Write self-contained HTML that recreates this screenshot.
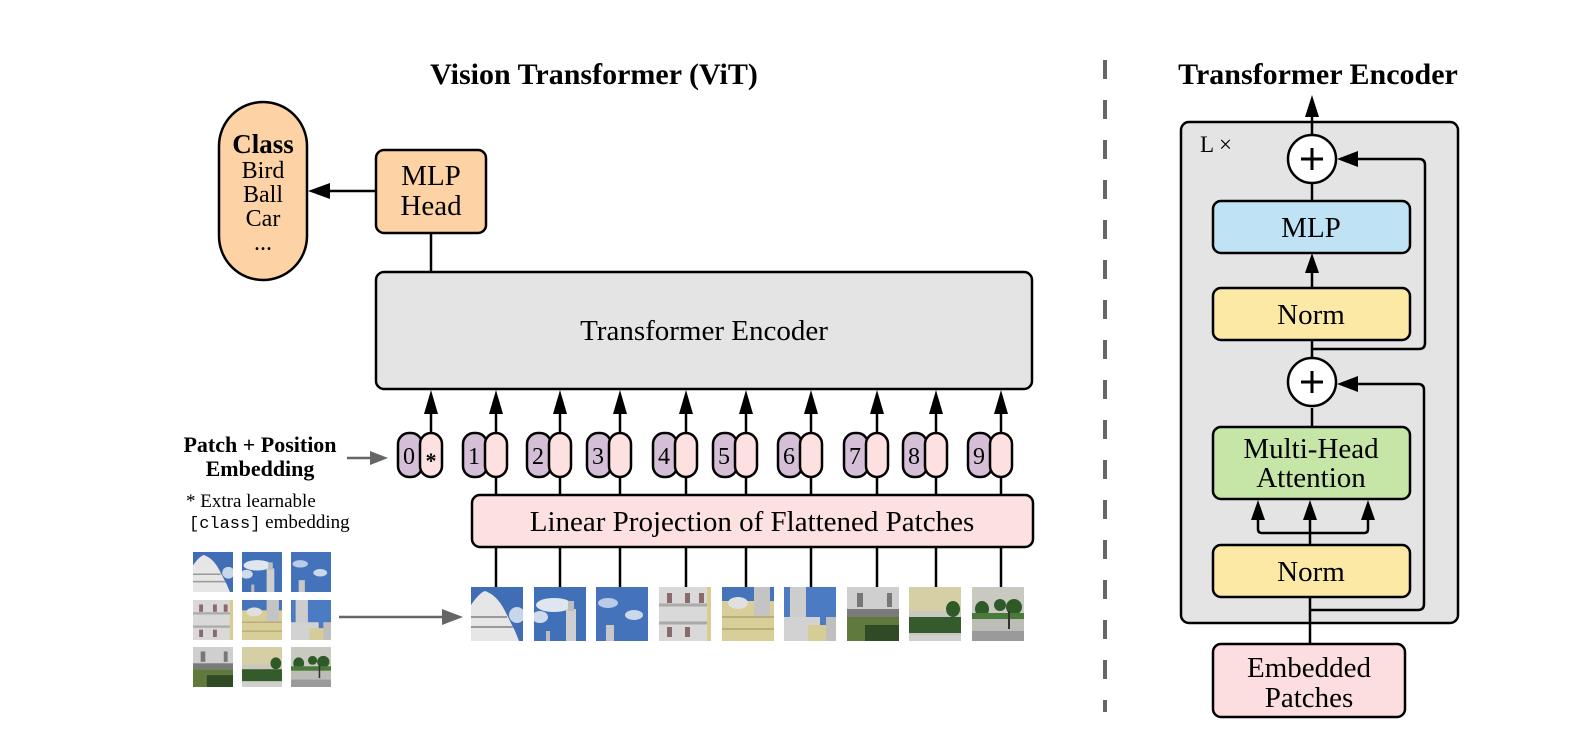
<!DOCTYPE html>
<html><head><meta charset="utf-8"><style>
html,body{margin:0;padding:0;background:#fff;}
svg{display:block;}
text{font-family:"Liberation Serif",serif;fill:#000;}
</style></head><body>
<svg width="1594" height="751" viewBox="0 0 1594 751" xmlns="http://www.w3.org/2000/svg">
<defs>
<symbol id="pA" viewBox="0 0 52 54" preserveAspectRatio="none"><rect width="52" height="54" fill="#3f6db6"/><ellipse cx="46" cy="28" rx="8" ry="8" fill="#c8d6ea"/><path d="M0 54V18Q8 6 14 4Q26 8 34 24L44 44L48 54Z" fill="#e6e6e6"/><path d="M0 30H36M0 40H42" stroke="#999" stroke-width="2"/></symbol>
<symbol id="pB" viewBox="0 0 52 54" preserveAspectRatio="none"><rect width="52" height="54" fill="#4070b8"/><ellipse cx="20" cy="18" rx="18" ry="7" fill="#dfe6f0"/><ellipse cx="6" cy="30" rx="8" ry="6" fill="#cfdaea"/><rect x="32" y="22" width="10" height="32" fill="#cfcfcf"/><rect x="34" y="14" width="6" height="10" fill="#bdbdbd"/><rect x="12" y="44" width="4" height="10" fill="#bbb"/></symbol>
<symbol id="pC" viewBox="0 0 52 54" preserveAspectRatio="none"><rect width="52" height="54" fill="#4573bb"/><ellipse cx="12" cy="16" rx="10" ry="5" fill="#b9cbe6"/><ellipse cx="38" cy="28" rx="9" ry="5" fill="#cad8ec"/><rect x="10" y="38" width="8" height="16" fill="#c8c8c8"/></symbol>
<symbol id="pD" viewBox="0 0 52 54" preserveAspectRatio="none"><rect width="52" height="54" fill="#d9d9d9"/><path d="M0 18H52M0 36H52" stroke="#aaa" stroke-width="3"/><rect x="8" y="6" width="5" height="10" fill="#8a6a6a"/><rect x="26" y="6" width="5" height="10" fill="#8a6a6a"/><rect x="40" y="6" width="5" height="10" fill="#8a6a6a"/><rect x="8" y="40" width="5" height="10" fill="#8a6a6a"/><rect x="26" y="40" width="5" height="10" fill="#8a6a6a"/><rect x="48" y="0" width="4" height="54" fill="#d8cc90"/></symbol>
<symbol id="pE" viewBox="0 0 52 54" preserveAspectRatio="none"><rect width="52" height="54" fill="#d8cf98"/><rect width="52" height="14" fill="#4674bb"/><rect x="32" y="0" width="16" height="30" fill="#c4c4c4"/><ellipse cx="16" cy="16" rx="10" ry="6" fill="#e0e0e0"/><path d="M0 30H52M0 42H52" stroke="#b9ae7a" stroke-width="2"/></symbol>
<symbol id="pF" viewBox="0 0 52 54" preserveAspectRatio="none"><rect width="52" height="54" fill="#4b7bc2"/><rect x="6" y="0" width="16" height="54" fill="#cdcdcd"/><rect x="0" y="30" width="36" height="24" fill="#d2d2d2"/><rect x="24" y="38" width="20" height="16" fill="#d5cc98"/><rect x="42" y="30" width="10" height="24" fill="#bfbfbf"/></symbol>
<symbol id="pG" viewBox="0 0 52 54" preserveAspectRatio="none"><rect width="52" height="54" fill="#cfcfcf"/><rect x="10" y="6" width="6" height="14" fill="#777"/><rect x="40" y="6" width="5" height="14" fill="#777"/><rect x="0" y="22" width="52" height="8" fill="#7a7a7a"/><rect x="0" y="30" width="52" height="24" fill="#5f7a3c"/><rect x="18" y="38" width="34" height="16" fill="#2f4a24"/></symbol>
<symbol id="pH" viewBox="0 0 52 54" preserveAspectRatio="none"><rect width="52" height="54" fill="#d6cfa5"/><rect x="0" y="24" width="52" height="30" fill="#c8c8c0"/><ellipse cx="44" cy="22" rx="7" ry="8" fill="#2f5a28"/><rect x="0" y="30" width="52" height="16" fill="#355a2c"/><rect x="0" y="48" width="52" height="6" fill="#d0d0d0"/></symbol>
<symbol id="pI" viewBox="0 0 52 54" preserveAspectRatio="none"><rect width="52" height="54" fill="#c9c9c2"/><rect x="0" y="28" width="52" height="26" fill="#bdbdb8"/><ellipse cx="10" cy="22" rx="7" ry="8" fill="#2e5a28"/><ellipse cx="28" cy="18" rx="6" ry="6" fill="#2e5a28"/><ellipse cx="42" cy="20" rx="8" ry="8" fill="#2e5a28"/><rect x="0" y="26" width="52" height="6" fill="#4a7a3a"/><rect x="36" y="24" width="2" height="18" fill="#333"/><rect x="0" y="44" width="52" height="10" fill="#9a9a9a"/></symbol>
</defs>

<!-- LEFT -->
<text x="594" y="84" font-size="30" font-weight="bold" text-anchor="middle">Vision Transformer (ViT)</text>

<rect x="219" y="102" width="88" height="178" rx="44" fill="#fdd3a5" stroke="#000" stroke-width="2.5"/>
<text x="263" y="153" font-size="27" font-weight="bold" text-anchor="middle">Class</text>
<text x="263" y="178" font-size="24" text-anchor="middle">Bird</text>
<text x="263" y="202" font-size="24" text-anchor="middle">Ball</text>
<text x="263" y="226" font-size="24" text-anchor="middle">Car</text>
<text x="263" y="250" font-size="24" text-anchor="middle">...</text>

<rect x="376" y="150" width="110" height="83" rx="8" fill="#fdd3a5" stroke="#000" stroke-width="2.5"/>
<text x="431" y="185" font-size="29" text-anchor="middle">MLP</text>
<text x="431" y="215" font-size="29" text-anchor="middle">Head</text>
<line x1="376" y1="191" x2="328" y2="191" stroke="#000" stroke-width="2.5"/>
<polygon points="308,191 330,183 330,199" fill="#000"/>
<line x1="431" y1="233" x2="431" y2="272" stroke="#000" stroke-width="2.5"/>

<rect x="376" y="272" width="656" height="117" rx="8" fill="#e4e4e4" stroke="#000" stroke-width="2.5"/>
<text x="704" y="340" font-size="29" text-anchor="middle">Transformer Encoder</text>

<rect x="472" y="495" width="561" height="52" rx="8" fill="#fde0e0" stroke="#000" stroke-width="2.5"/>
<text x="752" y="531" font-size="29" text-anchor="middle">Linear Projection of Flattened Patches</text>

<g stroke="#000" stroke-width="2.5">
<line x1="431" y1="433" x2="431" y2="410"/><line x1="496" y1="433" x2="496" y2="410"/>
<line x1="560" y1="433" x2="560" y2="410"/><line x1="620" y1="433" x2="620" y2="410"/>
<line x1="686" y1="433" x2="686" y2="410"/><line x1="746" y1="433" x2="746" y2="410"/>
<line x1="811" y1="433" x2="811" y2="410"/><line x1="877" y1="433" x2="877" y2="410"/>
<line x1="936" y1="433" x2="936" y2="410"/><line x1="1001" y1="433" x2="1001" y2="410"/>
<line x1="496" y1="477" x2="496" y2="495"/><line x1="560" y1="477" x2="560" y2="495"/>
<line x1="620" y1="477" x2="620" y2="495"/><line x1="686" y1="477" x2="686" y2="495"/>
<line x1="746" y1="477" x2="746" y2="495"/><line x1="811" y1="477" x2="811" y2="495"/>
<line x1="877" y1="477" x2="877" y2="495"/><line x1="936" y1="477" x2="936" y2="495"/>
<line x1="1001" y1="477" x2="1001" y2="495"/>
<line x1="496" y1="547" x2="496" y2="587"/><line x1="560" y1="547" x2="560" y2="587"/>
<line x1="620" y1="547" x2="620" y2="587"/><line x1="686" y1="547" x2="686" y2="587"/>
<line x1="746" y1="547" x2="746" y2="587"/><line x1="811" y1="547" x2="811" y2="587"/>
<line x1="877" y1="547" x2="877" y2="587"/><line x1="936" y1="547" x2="936" y2="587"/>
<line x1="1001" y1="547" x2="1001" y2="587"/>
</g>
<g fill="#000">
<polygon points="431,390 424,414 438,414"/><polygon points="496,390 489,414 503,414"/>
<polygon points="560,390 553,414 567,414"/><polygon points="620,390 613,414 627,414"/>
<polygon points="686,390 679,414 693,414"/><polygon points="746,390 739,414 753,414"/>
<polygon points="811,390 804,414 818,414"/><polygon points="877,390 870,414 884,414"/>
<polygon points="936,390 929,414 943,414"/><polygon points="1001,390 994,414 1008,414"/>
</g>

<g stroke="#000" stroke-width="2.5">
<rect x="398" y="433" width="24" height="44" rx="11" fill="#d5bfd7"/><rect x="420" y="433" width="22" height="44" rx="11" fill="#fde0e0"/>
<rect x="463" y="433" width="24" height="44" rx="11" fill="#d5bfd7"/><rect x="485" y="433" width="22" height="44" rx="11" fill="#fde0e0"/>
<rect x="527" y="433" width="24" height="44" rx="11" fill="#d5bfd7"/><rect x="549" y="433" width="22" height="44" rx="11" fill="#fde0e0"/>
<rect x="587" y="433" width="24" height="44" rx="11" fill="#d5bfd7"/><rect x="609" y="433" width="22" height="44" rx="11" fill="#fde0e0"/>
<rect x="653" y="433" width="24" height="44" rx="11" fill="#d5bfd7"/><rect x="675" y="433" width="22" height="44" rx="11" fill="#fde0e0"/>
<rect x="713" y="433" width="24" height="44" rx="11" fill="#d5bfd7"/><rect x="735" y="433" width="22" height="44" rx="11" fill="#fde0e0"/>
<rect x="778" y="433" width="24" height="44" rx="11" fill="#d5bfd7"/><rect x="800" y="433" width="22" height="44" rx="11" fill="#fde0e0"/>
<rect x="844" y="433" width="24" height="44" rx="11" fill="#d5bfd7"/><rect x="866" y="433" width="22" height="44" rx="11" fill="#fde0e0"/>
<rect x="903" y="433" width="24" height="44" rx="11" fill="#d5bfd7"/><rect x="925" y="433" width="22" height="44" rx="11" fill="#fde0e0"/>
<rect x="968" y="433" width="24" height="44" rx="11" fill="#d5bfd7"/><rect x="990" y="433" width="22" height="44" rx="11" fill="#fde0e0"/>
</g>
<g font-size="24" text-anchor="middle">
<text x="409" y="464">0</text><text x="431" y="468" font-weight="bold" font-size="22">*</text>
<text x="474" y="464">1</text><text x="538" y="464">2</text><text x="598" y="464">3</text>
<text x="664" y="464">4</text><text x="724" y="464">5</text><text x="789" y="464">6</text>
<text x="855" y="464">7</text><text x="914" y="464">8</text><text x="979" y="464">9</text>
</g>

<use href="#pA" x="471" y="587" width="52" height="54"/>
<use href="#pB" x="534" y="587" width="52" height="54"/>
<use href="#pC" x="596" y="587" width="52" height="54"/>
<use href="#pD" x="659" y="587" width="52" height="54"/>
<use href="#pE" x="722" y="587" width="52" height="54"/>
<use href="#pF" x="784" y="587" width="52" height="54"/>
<use href="#pG" x="847" y="587" width="52" height="54"/>
<use href="#pH" x="909" y="587" width="52" height="54"/>
<use href="#pI" x="972" y="587" width="52" height="54"/>

<use href="#pA" x="193" y="552" width="40" height="40"/>
<use href="#pB" x="242" y="552" width="40" height="40"/>
<use href="#pC" x="291" y="552" width="40" height="40"/>
<use href="#pD" x="193" y="600" width="40" height="40"/>
<use href="#pE" x="242" y="600" width="40" height="40"/>
<use href="#pF" x="291" y="600" width="40" height="40"/>
<use href="#pG" x="193" y="647" width="40" height="40"/>
<use href="#pH" x="242" y="647" width="40" height="40"/>
<use href="#pI" x="291" y="647" width="40" height="40"/>

<line x1="339" y1="617" x2="445" y2="617" stroke="#666" stroke-width="2.5"/>
<polygon points="463,617 442,609 442,625" fill="#666"/>

<text x="260" y="452" font-size="22" font-weight="bold" text-anchor="middle">Patch + Position</text>
<text x="260" y="476" font-size="22" font-weight="bold" text-anchor="middle">Embedding</text>
<line x1="347" y1="458" x2="372" y2="458" stroke="#666" stroke-width="2.5"/>
<polygon points="388,458 370,451 370,465" fill="#666"/>
<text x="186" y="507" font-size="19">* Extra learnable</text>
<text x="189" y="528" font-size="19"><tspan font-family="Liberation Mono, monospace" font-size="17">[class]</tspan> embedding</text>

<line x1="1105" y1="60" x2="1105" y2="712" stroke="#666" stroke-width="4" stroke-dasharray="19 21"/>

<!-- RIGHT -->
<text x="1318" y="84" font-size="30" font-weight="bold" text-anchor="middle">Transformer Encoder</text>
<rect x="1181" y="122" width="277" height="501" rx="8" fill="#e4e4e4" stroke="#000" stroke-width="2.5"/>
<text x="1200" y="152" font-size="23">L ×</text>

<g stroke="#000" stroke-width="2.5" fill="none">
<line x1="1312" y1="135" x2="1312" y2="112"/>
<line x1="1312" y1="183" x2="1312" y2="201"/>
<line x1="1312" y1="288" x2="1312" y2="270"/>
<line x1="1312" y1="340" x2="1312" y2="360"/>
<path d="M1312 349H1419Q1425 349 1425 343V165Q1425 159 1419 159H1352"/>
<line x1="1312" y1="408" x2="1312" y2="427"/>
<path d="M1310 610H1418Q1424 610 1424 604V390Q1424 384 1418 384H1352"/>
<line x1="1310" y1="545" x2="1310" y2="516"/>
<path d="M1258 516V529Q1258 533 1262 533H1364Q1368 533 1368 529V516"/>
<line x1="1310" y1="597" x2="1310" y2="644"/>
</g>
<g fill="#000">
<polygon points="1312,95 1305,117 1319,117"/>
<polygon points="1312,253 1305,273 1319,273"/>
<polygon points="1337,159 1358,151 1358,167"/>
<polygon points="1337,384 1358,376 1358,392"/>
<polygon points="1258,500 1251,520 1265,520"/>
<polygon points="1310,500 1303,520 1317,520"/>
<polygon points="1368,500 1361,520 1375,520"/>
</g>

<circle cx="1312" cy="159" r="24" fill="#fff" stroke="#000" stroke-width="2.5"/>
<path d="M1301 159H1323M1312 148V170" stroke="#000" stroke-width="3"/>
<circle cx="1312" cy="382" r="24" fill="#fff" stroke="#000" stroke-width="2.5"/>
<path d="M1301 382H1323M1312 371V393" stroke="#000" stroke-width="3"/>

<rect x="1213" y="201" width="197" height="52" rx="8" fill="#c0e2f5" stroke="#000" stroke-width="2.5"/>
<text x="1311" y="237" font-size="29" text-anchor="middle">MLP</text>
<rect x="1213" y="288" width="197" height="52" rx="8" fill="#fde9a6" stroke="#000" stroke-width="2.5"/>
<text x="1311" y="324" font-size="29" text-anchor="middle">Norm</text>
<rect x="1213" y="427" width="197" height="72" rx="8" fill="#c6e6a8" stroke="#000" stroke-width="2.5"/>
<text x="1311" y="458" font-size="29" text-anchor="middle">Multi-Head</text>
<text x="1311" y="487" font-size="29" text-anchor="middle">Attention</text>
<rect x="1213" y="545" width="197" height="52" rx="8" fill="#fde9a6" stroke="#000" stroke-width="2.5"/>
<text x="1311" y="581" font-size="29" text-anchor="middle">Norm</text>
<rect x="1213" y="644" width="192" height="73" rx="8" fill="#fcdde0" stroke="#000" stroke-width="2.5"/>
<text x="1309" y="677" font-size="29" text-anchor="middle">Embedded</text>
<text x="1309" y="707" font-size="29" text-anchor="middle">Patches</text>
</svg>
</body></html>
